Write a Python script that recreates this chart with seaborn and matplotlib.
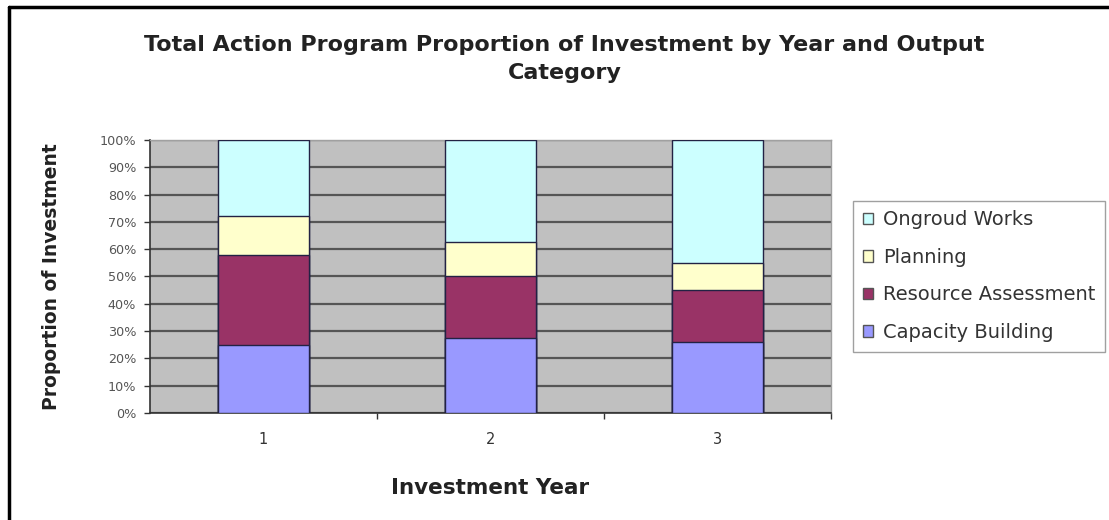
import matplotlib
matplotlib.use("Agg")
import matplotlib.pyplot as plt
from matplotlib.lines import Line2D
from matplotlib.patches import Patch
from matplotlib.ticker import FixedLocator
import numpy as np
import pandas as pd
import seaborn as sns

# Share of investment (%) per output category and investment year
years = ["1", "2", "3"]
capacity_building = [25.0, 27.5, 26.0]
resource_assessment = [33.0, 22.5, 19.0]
planning = [14.0, 12.5, 10.0]
ongroud_works = [28.0, 37.5, 45.0]

categories = ["Ongroud Works", "Planning", "Resource Assessment", "Capacity Building"]
colors = {
    "Ongroud Works": "#CCFFFF",
    "Planning": "#FFFFCC",
    "Resource Assessment": "#993366",
    "Capacity Building": "#9999FF",
}

sns.set_theme(style="white")
plt.rcParams["font.family"] = ["DejaVu Sans"]

df = pd.DataFrame({
    "year": years,
    "Capacity Building": capacity_building,
    "Resource Assessment": resource_assessment,
    "Planning": planning,
    "Ongroud Works": ongroud_works,
})
# cumulative stack heights, bottom segment first
stack_order = ["Capacity Building", "Resource Assessment", "Planning", "Ongroud Works"]
cum = df[stack_order].cumsum(axis=1)

fig = plt.figure(figsize=(11.09, 5.2), dpi=100)
ax = fig.add_axes([0.1353, 0.2058, 0.6140, 0.5250])
ax.set_facecolor("#C0C0C0")

# draw tallest cumulative bar first so each lower segment overlays it
for cat in reversed(stack_order):
    sns.barplot(x=df["year"], y=cum[cat], ax=ax, color=colors[cat],
                width=0.4, edgecolor="#222244", linewidth=1.0,
                saturation=1, zorder=3)

ax.set_ylim(0, 100)
ax.set_xlim(-0.5, 2.5)
ax.set_yticks(np.arange(0, 101, 10))
ax.set_yticklabels([f"{v}%" for v in range(0, 101, 10)])
ax.yaxis.grid(True, color="#555555", linewidth=1.6, zorder=1)
ax.set_axisbelow(True)

ax.tick_params(axis="y", which="major", direction="out", length=4, width=1,
               color="#333333", labelsize=9.2, labelcolor="#555555", left=True, pad=6)
ax.tick_params(axis="x", which="major", length=0, labelsize=10.5,
               labelcolor="#333333", pad=14)
ax.xaxis.set_minor_locator(FixedLocator([0.5, 1.5, 2.5]))
ax.tick_params(axis="x", which="minor", direction="out", length=4, width=1,
               color="#333333", bottom=True)

for side in ["left", "bottom"]:
    ax.spines[side].set_color("#333333")
    ax.spines[side].set_linewidth(1.2)
for side in ["top", "right"]:
    ax.spines[side].set_color("#A0A0A0")
    ax.spines[side].set_linewidth(1.0)

ax.set_xlabel("Investment Year", fontsize=15.5, fontweight="bold",
              color="#222222", labelpad=22)
ax.set_ylabel("Proportion of Investment", fontsize=13.5, fontweight="bold",
              color="#222222", labelpad=28)

fig.text(0.509, 0.913, "Total Action Program Proportion of Investment by Year and Output",
         ha="center", va="center", fontsize=16, fontweight="bold", color="#222222")
fig.text(0.509, 0.860, "Category", ha="center", va="center",
         fontsize=16, fontweight="bold", color="#222222")

handles = [Patch(facecolor=colors[c], edgecolor="#555555", linewidth=1.0) for c in categories]
leg = fig.legend(handles, categories, loc="upper left",
                 bbox_to_anchor=(0.769, 0.614), bbox_transform=fig.transFigure,
                 frameon=True, fancybox=False, fontsize=14, labelspacing=0.95,
                 handlelength=0.55, handleheight=0.55, handletextpad=0.5,
                 borderpad=0.5, borderaxespad=0)
leg.get_frame().set_edgecolor("#888888")
leg.get_frame().set_linewidth(1.0)
for t in leg.get_texts():
    t.set_color("#333333")

# outer frame on the left and top edges
fig.add_artist(Line2D([0.0077, 0.0077], [0.0, 0.9856], transform=fig.transFigure,
                      color="black", linewidth=2.5))
fig.add_artist(Line2D([0.0077, 1.0], [0.9856, 0.9856], transform=fig.transFigure,
                      color="black", linewidth=2.5))

fig.savefig("out.png", dpi=100)
